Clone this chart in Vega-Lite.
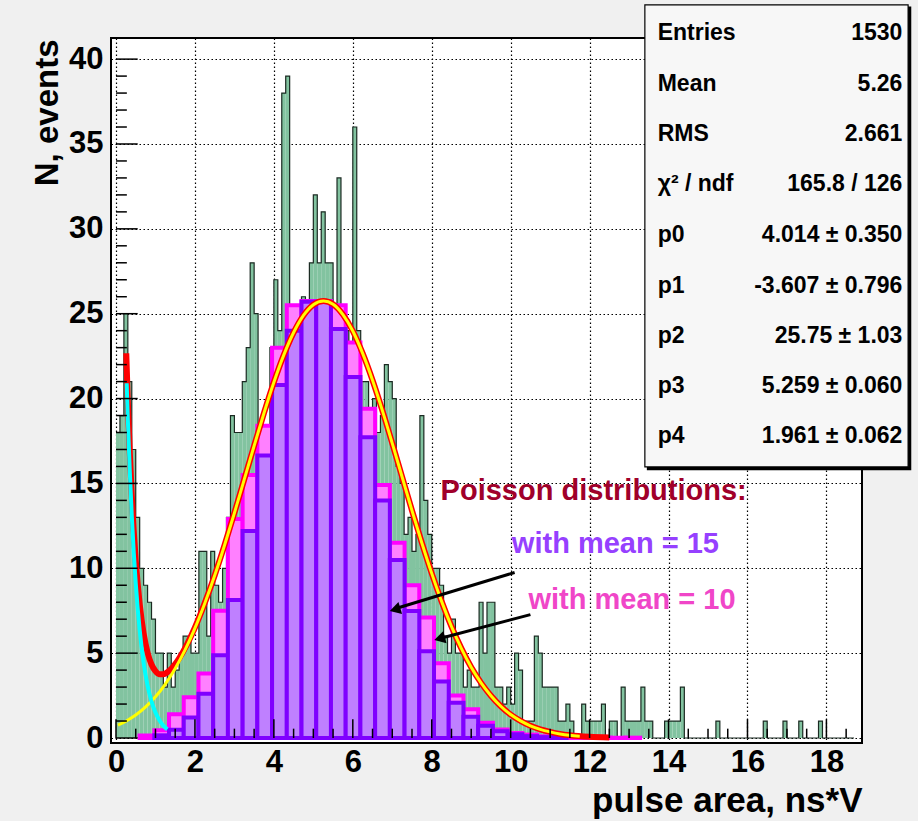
{
  "$schema": "https://vega.github.io/schema/vega-lite/v6.json",
  "width": 751,
  "height": 705,
  "autosize": {"type": "none"},
  "padding": {"left": 111, "top": 38, "right": 56, "bottom": 78},
  "background": "#f0f0f0",
  "view": {"fill": "#ffffff", "stroke": "#000000", "strokeWidth": 2},
  "config": {
    "font": "Liberation Sans",
    "axis": {"grid": true, "gridColor": "#000000", "gridDash": [1.5,2.5], "gridWidth": 1.2, "gridOpacity": 1,
      "ticks": false, "domain": false, "labelFont": "Liberation Sans", "labelFontWeight": "bold", "labelFontSize": 31,
      "labelColor": "#000000", "titleFont": "Liberation Sans", "titleFontWeight": "bold", "titleFontSize": 33, "titleColor": "#000000"}
  },
  "datasets": {
    "green": [
      {"lo":0.0,"hi":0.1,"v":18},{"lo":0.1,"hi":0.2,"v":19},{"lo":0.2,"hi":0.3,"v":25},{"lo":0.3,"hi":0.4,"v":21},{"lo":0.4,"hi":0.5,"v":17},
      {"lo":0.5,"hi":0.6,"v":13},{"lo":0.6,"hi":0.7,"v":10},{"lo":0.7,"hi":0.8,"v":9},{"lo":0.8,"hi":0.9,"v":8},{"lo":0.9,"hi":1.0,"v":7},
      {"lo":1.0,"hi":1.1,"v":5},{"lo":1.1,"hi":1.2,"v":5},{"lo":1.2,"hi":1.3,"v":3},{"lo":1.3,"hi":1.4,"v":5},{"lo":1.4,"hi":1.5,"v":3},
      {"lo":1.5,"hi":1.6,"v":4},{"lo":1.6,"hi":1.7,"v":5},{"lo":1.7,"hi":1.8,"v":6},{"lo":1.8,"hi":1.9,"v":6},{"lo":1.9,"hi":2.0,"v":5},
      {"lo":2.0,"hi":2.1,"v":5},{"lo":2.1,"hi":2.2,"v":11},{"lo":2.2,"hi":2.3,"v":11},{"lo":2.3,"hi":2.4,"v":6},{"lo":2.4,"hi":2.5,"v":11},
      {"lo":2.5,"hi":2.6,"v":9},{"lo":2.6,"hi":2.7,"v":8},{"lo":2.7,"hi":2.8,"v":10},{"lo":2.8,"hi":2.9,"v":13},{"lo":2.9,"hi":3.0,"v":19},
      {"lo":3.0,"hi":3.1,"v":18},{"lo":3.1,"hi":3.2,"v":18},{"lo":3.2,"hi":3.3,"v":21},{"lo":3.3,"hi":3.4,"v":23},{"lo":3.4,"hi":3.5,"v":28},
      {"lo":3.5,"hi":3.6,"v":25},{"lo":3.6,"hi":3.7,"v":16},{"lo":3.7,"hi":3.8,"v":14},{"lo":3.8,"hi":3.9,"v":17},{"lo":3.9,"hi":4.0,"v":23},
      {"lo":4.0,"hi":4.1,"v":27},{"lo":4.1,"hi":4.2,"v":24},{"lo":4.2,"hi":4.3,"v":38},{"lo":4.3,"hi":4.4,"v":39},{"lo":4.4,"hi":4.5,"v":25},
      {"lo":4.5,"hi":4.6,"v":24},{"lo":4.6,"hi":4.7,"v":24},{"lo":4.7,"hi":4.8,"v":26},{"lo":4.8,"hi":4.9,"v":25},{"lo":4.9,"hi":5.0,"v":28},
      {"lo":5.0,"hi":5.1,"v":32},{"lo":5.1,"hi":5.2,"v":28},{"lo":5.2,"hi":5.3,"v":31},{"lo":5.3,"hi":5.4,"v":28},{"lo":5.4,"hi":5.5,"v":28},
      {"lo":5.5,"hi":5.6,"v":25},{"lo":5.6,"hi":5.7,"v":33},{"lo":5.7,"hi":5.8,"v":22},{"lo":5.8,"hi":5.9,"v":24},{"lo":5.9,"hi":6.0,"v":23},
      {"lo":6.0,"hi":6.1,"v":36},{"lo":6.1,"hi":6.2,"v":24},{"lo":6.2,"hi":6.3,"v":21},{"lo":6.3,"hi":6.4,"v":21},{"lo":6.4,"hi":6.5,"v":19},
      {"lo":6.5,"hi":6.6,"v":20},{"lo":6.6,"hi":6.7,"v":18},{"lo":6.7,"hi":6.8,"v":19},{"lo":6.8,"hi":6.9,"v":22},{"lo":6.9,"hi":7.0,"v":21},
      {"lo":7.0,"hi":7.1,"v":20},{"lo":7.1,"hi":7.2,"v":16},{"lo":7.2,"hi":7.3,"v":15},{"lo":7.3,"hi":7.4,"v":12},{"lo":7.4,"hi":7.5,"v":13},
      {"lo":7.5,"hi":7.6,"v":11},{"lo":7.6,"hi":7.7,"v":12},{"lo":7.7,"hi":7.8,"v":19},{"lo":7.8,"hi":7.9,"v":14},{"lo":7.9,"hi":8.0,"v":12},
      {"lo":8.0,"hi":8.1,"v":10},{"lo":8.1,"hi":8.2,"v":10},{"lo":8.2,"hi":8.3,"v":9},{"lo":8.3,"hi":8.4,"v":6},{"lo":8.4,"hi":8.5,"v":5},
      {"lo":8.5,"hi":8.6,"v":7},{"lo":8.6,"hi":8.7,"v":5},{"lo":8.7,"hi":8.8,"v":5},{"lo":8.8,"hi":8.9,"v":3},{"lo":8.9,"hi":9.0,"v":4},
      {"lo":9.0,"hi":9.1,"v":3},{"lo":9.1,"hi":9.2,"v":3},{"lo":9.2,"hi":9.3,"v":8},{"lo":9.3,"hi":9.4,"v":5},{"lo":9.4,"hi":9.5,"v":8},
      {"lo":9.5,"hi":9.6,"v":8},{"lo":9.6,"hi":9.7,"v":3},{"lo":9.7,"hi":9.8,"v":3},{"lo":9.8,"hi":9.9,"v":2},{"lo":9.9,"hi":10.0,"v":3},
      {"lo":10.0,"hi":10.1,"v":2},{"lo":10.1,"hi":10.2,"v":5},{"lo":10.2,"hi":10.3,"v":4},{"lo":10.3,"hi":10.4,"v":1},{"lo":10.4,"hi":10.5,"v":1},
      {"lo":10.5,"hi":10.6,"v":1},{"lo":10.6,"hi":10.7,"v":6},{"lo":10.7,"hi":10.8,"v":5},{"lo":10.8,"hi":10.9,"v":3},{"lo":10.9,"hi":11.0,"v":3},
      {"lo":11.0,"hi":11.1,"v":3},{"lo":11.1,"hi":11.2,"v":3},{"lo":11.2,"hi":11.3,"v":1},{"lo":11.3,"hi":11.4,"v":1},{"lo":11.4,"hi":11.5,"v":2},
      {"lo":11.5,"hi":11.6,"v":1},{"lo":11.6,"hi":11.7,"v":0},{"lo":11.7,"hi":11.8,"v":0},{"lo":11.8,"hi":11.9,"v":2},{"lo":11.9,"hi":12.0,"v":1},
      {"lo":12.0,"hi":12.1,"v":1},{"lo":12.1,"hi":12.2,"v":1},{"lo":12.2,"hi":12.3,"v":1},{"lo":12.3,"hi":12.4,"v":2},{"lo":12.4,"hi":12.5,"v":0},
      {"lo":12.5,"hi":12.6,"v":1},{"lo":12.6,"hi":12.7,"v":1},{"lo":12.7,"hi":12.8,"v":0},{"lo":12.8,"hi":12.9,"v":3},{"lo":12.9,"hi":13.0,"v":1},
      {"lo":13.0,"hi":13.1,"v":1},{"lo":13.1,"hi":13.2,"v":1},{"lo":13.2,"hi":13.3,"v":1},{"lo":13.3,"hi":13.4,"v":3},{"lo":13.4,"hi":13.5,"v":1},
      {"lo":13.5,"hi":13.6,"v":1},{"lo":13.6,"hi":13.7,"v":0},{"lo":13.7,"hi":13.8,"v":0},{"lo":13.8,"hi":13.9,"v":0},{"lo":13.9,"hi":14.0,"v":1},
      {"lo":14.0,"hi":14.1,"v":1},{"lo":14.1,"hi":14.2,"v":1},{"lo":14.2,"hi":14.3,"v":1},{"lo":14.3,"hi":14.4,"v":3},{"lo":14.4,"hi":14.5,"v":0},
      {"lo":14.5,"hi":14.6,"v":0},{"lo":14.6,"hi":14.7,"v":0},{"lo":14.7,"hi":14.8,"v":0},{"lo":14.8,"hi":14.9,"v":0},{"lo":14.9,"hi":15.0,"v":0},
      {"lo":15.0,"hi":15.1,"v":0},{"lo":15.1,"hi":15.2,"v":0},{"lo":15.2,"hi":15.3,"v":1},{"lo":15.3,"hi":15.4,"v":0},{"lo":15.4,"hi":15.5,"v":0},
      {"lo":15.5,"hi":15.6,"v":0},{"lo":15.6,"hi":15.7,"v":0},{"lo":15.7,"hi":15.8,"v":0},{"lo":15.8,"hi":15.9,"v":0},{"lo":15.9,"hi":16.0,"v":0},
      {"lo":16.0,"hi":16.1,"v":0},{"lo":16.1,"hi":16.2,"v":0},{"lo":16.2,"hi":16.3,"v":0},{"lo":16.3,"hi":16.4,"v":0},{"lo":16.4,"hi":16.5,"v":1},
      {"lo":16.5,"hi":16.6,"v":0},{"lo":16.6,"hi":16.7,"v":0},{"lo":16.7,"hi":16.8,"v":0},{"lo":16.8,"hi":16.9,"v":0},{"lo":16.9,"hi":17.0,"v":1},
      {"lo":17.0,"hi":17.1,"v":0},{"lo":17.1,"hi":17.2,"v":0},{"lo":17.2,"hi":17.3,"v":0},{"lo":17.3,"hi":17.4,"v":1},{"lo":17.4,"hi":17.5,"v":0},
      {"lo":17.5,"hi":17.6,"v":0},{"lo":17.6,"hi":17.7,"v":0},{"lo":17.7,"hi":17.8,"v":0},{"lo":17.8,"hi":17.9,"v":1},{"lo":17.9,"hi":18.0,"v":0},
      {"lo":18.0,"hi":18.1,"v":0},{"lo":18.1,"hi":18.2,"v":0},{"lo":18.2,"hi":18.3,"v":0},{"lo":18.3,"hi":18.4,"v":0},{"lo":18.4,"hi":18.5,"v":0},
      {"lo":18.5,"hi":18.6,"v":0},{"lo":18.6,"hi":18.7,"v":0},{"lo":18.7,"hi":18.8,"v":0}
    ],
    "poisson10": [
      {"lo":0.5975,"hi":0.9705,"v":0.15},{"lo":0.9705,"hi":1.3435,"v":0.45},{"lo":1.3435,"hi":1.7165,"v":1.4},{"lo":1.7165,"hi":2.0895,"v":2.4},
      {"lo":2.0895,"hi":2.4625,"v":3.8},{"lo":2.4625,"hi":2.8355,"v":7.5},{"lo":2.8355,"hi":3.2085,"v":12.9},{"lo":3.2085,"hi":3.5815,"v":15.5},
      {"lo":3.5815,"hi":3.9545,"v":18.4},{"lo":3.9545,"hi":4.3275,"v":23.0},{"lo":4.3275,"hi":4.7005,"v":25.5},{"lo":4.7005,"hi":5.0735,"v":25.75},
      {"lo":5.0735,"hi":5.4465,"v":25.75},{"lo":5.4465,"hi":5.8195,"v":25.5},{"lo":5.8195,"hi":6.1925,"v":23.3},{"lo":6.1925,"hi":6.5655,"v":19.4},
      {"lo":6.5655,"hi":6.9385,"v":14.9},{"lo":6.9385,"hi":7.3115,"v":11.5},{"lo":7.3115,"hi":7.6845,"v":9.0},{"lo":7.6845,"hi":8.0575,"v":7.1},
      {"lo":8.0575,"hi":8.4305,"v":4.4},{"lo":8.4305,"hi":8.8035,"v":2.5},{"lo":8.8035,"hi":9.1765,"v":1.7},{"lo":9.1765,"hi":9.5495,"v":0.9},
      {"lo":9.5495,"hi":9.9225,"v":0.5},{"lo":9.9225,"hi":10.2955,"v":0.3},{"lo":10.2955,"hi":10.6685,"v":0.2},{"lo":10.6685,"hi":11.0415,"v":0.1},
      {"lo":11.0415,"hi":11.4145,"v":0.05},{"lo":11.4145,"hi":11.7875,"v":0.03},{"lo":11.7875,"hi":12.1605,"v":0.02},{"lo":12.1605,"hi":12.5335,"v":0.02},
      {"lo":12.5335,"hi":12.9065,"v":0.02},{"lo":12.9065,"hi":13.2795,"v":0.02}
    ],
    "poisson15": [
      {"lo":0.9705,"hi":1.3435,"v":0.16},{"lo":1.3435,"hi":1.7165,"v":0.49},{"lo":1.7165,"hi":2.0895,"v":1.21},{"lo":2.0895,"hi":2.4625,"v":2.6},
      {"lo":2.4625,"hi":2.8355,"v":4.88},{"lo":2.8355,"hi":3.2085,"v":8.13},{"lo":3.2085,"hi":3.5815,"v":12.2},{"lo":3.5815,"hi":3.9545,"v":16.64},
      {"lo":3.9545,"hi":4.3275,"v":20.8},{"lo":4.3275,"hi":4.7005,"v":24.0},{"lo":4.7005,"hi":5.0735,"v":25.71},{"lo":5.0735,"hi":5.4465,"v":25.71},
      {"lo":5.4465,"hi":5.8195,"v":24.1},{"lo":5.8195,"hi":6.1925,"v":21.27},{"lo":6.1925,"hi":6.5655,"v":17.72},{"lo":6.5655,"hi":6.9385,"v":13.99},
      {"lo":6.9385,"hi":7.3115,"v":10.49},{"lo":7.3115,"hi":7.6845,"v":7.49},{"lo":7.6845,"hi":8.0575,"v":5.11},{"lo":8.0575,"hi":8.4305,"v":3.33},
      {"lo":8.4305,"hi":8.8035,"v":2.08},{"lo":8.8035,"hi":9.1765,"v":1.25},{"lo":9.1765,"hi":9.5495,"v":0.72},{"lo":9.5495,"hi":9.9225,"v":0.4},
      {"lo":9.9225,"hi":10.2955,"v":0.22},{"lo":10.2955,"hi":10.6685,"v":0.11},{"lo":10.6685,"hi":11.0415,"v":0.05},{"lo":11.0415,"hi":11.4145,"v":0.03}
    ],
    "fit": [
      {"x":0.26,"v":22.67},{"x":0.3,"v":19.8},{"x":0.35,"v":16.8},{"x":0.4,"v":14.28},{"x":0.45,"v":12.19},{"x":0.5,"v":10.47},
      {"x":0.6,"v":7.89},{"x":0.7,"v":6.16},{"x":0.8,"v":5.03},{"x":0.9,"v":4.33},{"x":1.0,"v":3.94},{"x":1.1,"v":3.76},{"x":1.2,"v":3.75},
      {"x":1.3,"v":3.87},{"x":1.4,"v":4.07},{"x":1.5,"v":4.35},{"x":1.6,"v":4.69},{"x":1.8,"v":5.52},{"x":2.0,"v":6.51},{"x":2.25,"v":7.96},
      {"x":2.5,"v":9.58},{"x":2.75,"v":11.36},{"x":3.0,"v":13.26},{"x":3.25,"v":15.24},{"x":3.5,"v":17.22},{"x":3.75,"v":19.15},{"x":4.0,"v":20.96},
      {"x":4.25,"v":22.56},{"x":4.5,"v":23.89},{"x":4.75,"v":24.9},{"x":5.0,"v":25.53},{"x":5.26,"v":25.75},{"x":5.5,"v":25.56},{"x":5.75,"v":24.95},
      {"x":6.0,"v":23.98},{"x":6.25,"v":22.66},{"x":6.5,"v":21.08},{"x":6.75,"v":19.29},{"x":7.0,"v":17.36},{"x":7.25,"v":15.38},{"x":7.5,"v":13.4},
      {"x":7.75,"v":11.49},{"x":8.0,"v":9.7},{"x":8.25,"v":8.05},{"x":8.5,"v":6.57},{"x":8.75,"v":5.28},{"x":9.0,"v":4.17},{"x":9.25,"v":3.25},
      {"x":9.5,"v":2.49},{"x":9.75,"v":1.87},{"x":10.0,"v":1.38},{"x":10.25,"v":1.01},{"x":10.5,"v":0.72},{"x":10.75,"v":0.51},{"x":11.0,"v":0.36},
      {"x":11.25,"v":0.24},{"x":11.5,"v":0.16},{"x":12.0,"v":0.07},{"x":12.5,"v":0.03}
    ],
    "gaus": [
      {"x":0.05,"v":0.76},{"x":0.25,"v":0.99},{"x":0.5,"v":1.35},{"x":0.75,"v":1.83},{"x":1.0,"v":2.43},{"x":1.25,"v":3.18},{"x":1.5,"v":4.1},
      {"x":1.75,"v":5.19},{"x":2.0,"v":6.47},{"x":2.25,"v":7.94},{"x":2.5,"v":9.57},{"x":2.75,"v":11.36},{"x":3.0,"v":13.26},{"x":3.25,"v":15.24},
      {"x":3.5,"v":17.22},{"x":3.75,"v":19.15},{"x":4.0,"v":20.96},{"x":4.25,"v":22.56},{"x":4.5,"v":23.89},{"x":4.75,"v":24.9},{"x":5.0,"v":25.53},
      {"x":5.26,"v":25.75},{"x":5.5,"v":25.56},{"x":5.75,"v":24.95},{"x":6.0,"v":23.98},{"x":6.25,"v":22.66},{"x":6.5,"v":21.08},{"x":6.75,"v":19.29},
      {"x":7.0,"v":17.36},{"x":7.25,"v":15.38},{"x":7.5,"v":13.4},{"x":7.75,"v":11.49},{"x":8.0,"v":9.7},{"x":8.25,"v":8.05},{"x":8.5,"v":6.57},
      {"x":8.75,"v":5.28},{"x":9.0,"v":4.17},{"x":9.25,"v":3.25},{"x":9.5,"v":2.49},{"x":9.75,"v":1.87},{"x":10.0,"v":1.38},{"x":10.25,"v":1.01},
      {"x":10.5,"v":0.72},{"x":10.75,"v":0.51},{"x":11.0,"v":0.36},{"x":11.25,"v":0.24},{"x":11.5,"v":0.16},{"x":11.75,"v":0.11}
    ],
    "expo": [
      {"x":0.27,"v":20.9},{"x":0.3,"v":18.76},{"x":0.35,"v":15.67},{"x":0.4,"v":13.08},{"x":0.45,"v":10.92},{"x":0.5,"v":9.12},{"x":0.6,"v":6.36},
      {"x":0.7,"v":4.43},{"x":0.8,"v":3.09},{"x":0.9,"v":2.15},{"x":1.0,"v":1.5},{"x":1.1,"v":1.05},{"x":1.2,"v":0.73},{"x":1.3,"v":0.51}
    ],
    "yticks": [
      {"t":0,"len":0.55},{"t":1,"len":0.275},{"t":2,"len":0.275},{"t":3,"len":0.275},{"t":4,"len":0.275},{"t":5,"len":0.55},
      {"t":6,"len":0.275},{"t":7,"len":0.275},{"t":8,"len":0.275},{"t":9,"len":0.275},{"t":10,"len":0.55},
      {"t":11,"len":0.275},{"t":12,"len":0.275},{"t":13,"len":0.275},{"t":14,"len":0.275},{"t":15,"len":0.55},
      {"t":16,"len":0.275},{"t":17,"len":0.275},{"t":18,"len":0.275},{"t":19,"len":0.275},{"t":20,"len":0.55},
      {"t":21,"len":0.275},{"t":22,"len":0.275},{"t":23,"len":0.275},{"t":24,"len":0.275},{"t":25,"len":0.55},
      {"t":26,"len":0.275},{"t":27,"len":0.275},{"t":28,"len":0.275},{"t":29,"len":0.275},{"t":30,"len":0.55},
      {"t":31,"len":0.275},{"t":32,"len":0.275},{"t":33,"len":0.275},{"t":34,"len":0.275},{"t":35,"len":0.55},
      {"t":36,"len":0.275},{"t":37,"len":0.275},{"t":38,"len":0.275},{"t":39,"len":0.275},{"t":40,"len":0.55}
    ],
    "xticks": [
      {"t":0,"len":1.1},{"t":0.5,"len":0.55},{"t":1,"len":0.55},{"t":1.5,"len":0.55},{"t":2,"len":1.1},{"t":2.5,"len":0.55},{"t":3,"len":0.55},{"t":3.5,"len":0.55},
      {"t":4,"len":1.1},{"t":4.5,"len":0.55},{"t":5,"len":0.55},{"t":5.5,"len":0.55},{"t":6,"len":1.1},{"t":6.5,"len":0.55},{"t":7,"len":0.55},{"t":7.5,"len":0.55},
      {"t":8,"len":1.1},{"t":8.5,"len":0.55},{"t":9,"len":0.55},{"t":9.5,"len":0.55},{"t":10,"len":1.1},{"t":10.5,"len":0.55},{"t":11,"len":0.55},{"t":11.5,"len":0.55},
      {"t":12,"len":1.1},{"t":12.5,"len":0.55},{"t":13,"len":0.55},{"t":13.5,"len":0.55},{"t":14,"len":1.1},{"t":14.5,"len":0.55},{"t":15,"len":0.55},{"t":15.5,"len":0.55},
      {"t":16,"len":1.1},{"t":16.5,"len":0.55},{"t":17,"len":0.55},{"t":17.5,"len":0.55},{"t":18,"len":1.1},{"t":18.5,"len":0.55}
    ],
    "stats": [
      {"label":"Entries","value":"1530","y":41.1},
      {"label":"Mean","value":"5.26","y":38.14},
      {"label":"RMS","value":"2.661","y":35.18},
      {"label":"χ² / ndf","value":"165.8 / 126","y":32.22},
      {"label":"p0","value":"4.014 ± 0.350","y":29.2},
      {"label":"p1","value":"-3.607 ± 0.796","y":26.24},
      {"label":"p2","value":"25.75 ± 1.03","y":23.28},
      {"label":"p3","value":"5.259 ± 0.060","y":20.32},
      {"label":"p4","value":"1.961 ± 0.062","y":17.36}
    ]
  },
  "layer": [
    {
      "data": {"name": "green"},
      "mark": {"type": "bar", "fill": "#82c3a0", "orient": "vertical"},
      "encoding": {
        "x": {"field": "lo", "type": "quantitative", "scale": {"domain": [0, 18.775], "nice": false, "zero": false},
          "axis": {"values": [0,2,4,6,8,10,12,14,16,18], "labelPadding": 4, "labelFlush": false, "labelBaseline": "top",
            "title": "pulse area, ns*V", "titleFontSize": 35, "titleAnchor": "end", "titleAlign": "right", "titleBaseline": "alphabetic", "titleX": 751, "titleY": 68}},
        "x2": {"field": "hi"},
        "y": {"field": "v", "type": "quantitative", "scale": {"domain": [0, 40.95], "nice": false, "zero": false},
          "axis": {"values": [0,5,10,15,20,25,30,35,40], "labelPadding": 8, "labelAlign": "right", "labelBaseline": "middle", "labelFlush": false,
            "title": "N, events", "titleAngle": -90, "titleAnchor": "end", "titleAlign": "right", "titleBaseline": "middle", "titleX": -64, "titleY": 1}}
      }
    },
    {
      "data": {"name": "green"},
      "mark": {"type": "line", "interpolate": "step-after", "color": "#1b2a22", "strokeWidth": 1.2},
      "encoding": {
        "x": {"field": "lo", "type": "quantitative"},
        "y": {"field": "v", "type": "quantitative"}
      }
    },
    {
      "data": {"name": "poisson10"},
      "mark": {"type": "bar", "fill": "#ff80ff", "stroke": "#ff00ff", "strokeWidth": 4, "orient": "vertical"},
      "encoding": {
        "x": {"field": "lo", "type": "quantitative"},
        "x2": {"field": "hi"},
        "y": {"field": "v", "type": "quantitative"}
      }
    },
    {
      "data": {"name": "poisson15"},
      "mark": {"type": "bar", "fill": "#bf80ff", "stroke": "#7f00ff", "strokeWidth": 4, "orient": "vertical"},
      "encoding": {
        "x": {"field": "lo", "type": "quantitative"},
        "x2": {"field": "hi"},
        "y": {"field": "v", "type": "quantitative"}
      }
    },
    {
      "data": {"name": "fit"},
      "mark": {"type": "line", "interpolate": "monotone", "color": "#ff0000", "strokeWidth": 6},
      "encoding": {
        "x": {"field": "x", "type": "quantitative"},
        "y": {"field": "v", "type": "quantitative"}
      }
    },
    {
      "data": {"name": "gaus"},
      "mark": {"type": "line", "interpolate": "monotone", "color": "#ffff00", "strokeWidth": 3},
      "encoding": {
        "x": {"field": "x", "type": "quantitative"},
        "y": {"field": "v", "type": "quantitative"}
      }
    },
    {
      "data": {"name": "expo"},
      "mark": {"type": "line", "interpolate": "monotone", "color": "#00ffff", "strokeWidth": 4},
      "encoding": {
        "x": {"field": "x", "type": "quantitative"},
        "y": {"field": "v", "type": "quantitative"}
      }
    },
    {
      "data": {"name": "yticks"},
      "mark": {"type": "bar", "orient": "horizontal", "color": "#000000", "size": 1.5},
      "encoding": {
        "y": {"field": "t", "type": "quantitative"},
        "x": {"field": "len", "type": "quantitative"}
      }
    },
    {
      "data": {"name": "xticks"},
      "mark": {"type": "bar", "orient": "vertical", "color": "#000000", "size": 1.5},
      "encoding": {
        "x": {"field": "t", "type": "quantitative"},
        "y": {"field": "len", "type": "quantitative"}
      }
    },
    {
      "data": {"values": [{"x": 10.1, "y": 9.75, "xe": 7.05, "ye": 7.6}, {"x": 10.5, "y": 7.27, "xe": 8.18, "ye": 5.85}]},
      "mark": {"type": "rule", "color": "#000000", "strokeWidth": 3},
      "encoding": {
        "x": {"field": "x", "type": "quantitative"},
        "y": {"field": "y", "type": "quantitative"},
        "x2": {"field": "xe"},
        "y2": {"field": "ye"}
      }
    },
    {
      "data": {"values": [{"x": 7.07, "y": 7.57}]},
      "mark": {"type": "point", "shape": "triangle-right", "filled": true, "color": "#000000", "opacity": 1, "size": 160, "angle": 163.4},
      "encoding": {
        "x": {"field": "x", "type": "quantitative"},
        "y": {"field": "y", "type": "quantitative"}
      }
    },
    {
      "data": {"values": [{"x": 8.2, "y": 5.86}]},
      "mark": {"type": "point", "shape": "triangle-right", "filled": true, "color": "#000000", "opacity": 1, "size": 160, "angle": 165.5},
      "encoding": {
        "x": {"field": "x", "type": "quantitative"},
        "y": {"field": "y", "type": "quantitative"}
      }
    },
    {
      "data": {"values": [{"text": "Poisson distributions:", "x": 8.225, "y": 14.0}]},
      "mark": {"type": "text", "align": "left", "baseline": "alphabetic", "font": "Liberation Sans", "fontWeight": "bold", "fontSize": 29, "color": "#a0002a"},
      "encoding": {
        "x": {"field": "x", "type": "quantitative"},
        "y": {"field": "y", "type": "quantitative"},
        "text": {"field": "text", "type": "nominal"}
      }
    },
    {
      "data": {"values": [{"text": "with mean = 15", "x": 10.03, "y": 10.9}]},
      "mark": {"type": "text", "align": "left", "baseline": "alphabetic", "font": "Liberation Sans", "fontWeight": "bold", "fontSize": 29, "color": "#9640ff"},
      "encoding": {
        "x": {"field": "x", "type": "quantitative"},
        "y": {"field": "y", "type": "quantitative"},
        "text": {"field": "text", "type": "nominal"}
      }
    },
    {
      "data": {"values": [{"text": "with mean = 10", "x": 10.45, "y": 7.6}]},
      "mark": {"type": "text", "align": "left", "baseline": "alphabetic", "font": "Liberation Sans", "fontWeight": "bold", "fontSize": 29, "color": "#f046c8"},
      "encoding": {
        "x": {"field": "x", "type": "quantitative"},
        "y": {"field": "y", "type": "quantitative"},
        "text": {"field": "text", "type": "nominal"}
      }
    },
    {
      "data": {"values": [{"x1": 13.45, "x2": 20.15, "y1": 15.78, "y2": 43.1}]},
      "mark": {"type": "rect", "fill": "#000000"},
      "encoding": {
        "x": {"field": "x1", "type": "quantitative"},
        "x2": {"field": "x2"},
        "y": {"field": "y1", "type": "quantitative"},
        "y2": {"field": "y2"}
      }
    },
    {
      "data": {"values": [{"x1": 13.4, "x2": 20.07, "y1": 15.97, "y2": 43.2}]},
      "mark": {"type": "rect", "fill": "#f7f7f7", "stroke": "#000000", "strokeWidth": 1.2},
      "encoding": {
        "x": {"field": "x1", "type": "quantitative"},
        "x2": {"field": "x2"},
        "y": {"field": "y1", "type": "quantitative"},
        "y2": {"field": "y2"}
      }
    },
    {
      "data": {"name": "stats"},
      "mark": {"type": "text", "align": "left", "baseline": "alphabetic", "font": "Liberation Sans", "fontWeight": "bold", "fontSize": 23, "color": "#000000"},
      "encoding": {
        "x": {"datum": 13.725, "type": "quantitative"},
        "y": {"field": "y", "type": "quantitative"},
        "text": {"field": "label", "type": "nominal"}
      }
    },
    {
      "data": {"name": "stats"},
      "mark": {"type": "text", "align": "right", "baseline": "alphabetic", "font": "Liberation Sans", "fontWeight": "bold", "fontSize": 23, "color": "#000000"},
      "encoding": {
        "x": {"datum": 19.925, "type": "quantitative"},
        "y": {"field": "y", "type": "quantitative"},
        "text": {"field": "value", "type": "nominal"}
      }
    }
  ]
}
